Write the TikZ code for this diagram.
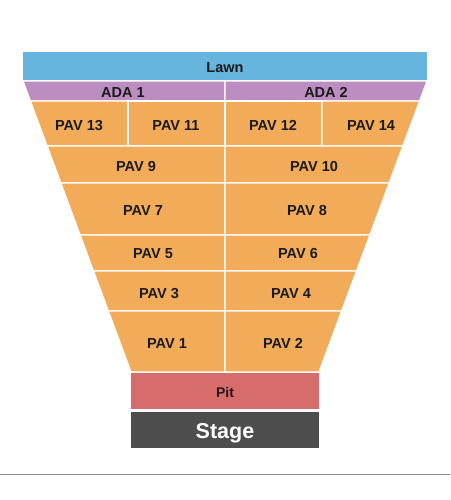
\documentclass[tikz,border=0pt]{standalone}
\usepackage{fontspec}
\setmainfont{Liberation Sans}
\definecolor{lawnc}{HTML}{67B5DE}
\definecolor{adac}{HTML}{BC8DC1}
\definecolor{pavc}{HTML}{F2AC59}
\definecolor{pitc}{HTML}{D76C6C}
\definecolor{stagec}{HTML}{4D4D4D}
\definecolor{txtc}{HTML}{1A1A1A}
\begin{document}
\begin{tikzpicture}[x=1pt,y=-1pt,
  cell/.style={draw=white,line width=1.2pt},
  lbl/.style={font=\bfseries\fontsize{14.5}{16}\selectfont,text=txtc,inner sep=0pt,text height=10.4pt,text depth=0pt},
  pitlbl/.style={font=\bfseries\fontsize{14}{16}\selectfont,text=black!80!pitc,inner sep=0pt,text height=10pt,text depth=0pt},
  stagelbl/.style={font=\bfseries\fontsize{21.5}{23}\selectfont,text=white,inner sep=0pt,text height=15.4pt,text depth=0pt}]
\useasboundingbox (0,0) rectangle (450,500);
% Lawn
\fill[lawnc] (23,52) rectangle (427,80);
% ADA
\filldraw[cell,fill=adac] (23,81)--(225,81)--(225,101)--(30.42,101)--cycle;
\filldraw[cell,fill=adac] (427,81)--(225,81)--(225,101)--(419.58,101)--cycle;
% PAV 13/11/12/14
\filldraw[cell,fill=pavc] (30.42,101)--(128,101)--(128,146)--(47.12,146)--cycle;
\filldraw[cell,fill=pavc] (128,101)--(225,101)--(225,146)--(128,146)--cycle;
\filldraw[cell,fill=pavc] (225,101)--(322,101)--(322,146)--(225,146)--cycle;
\filldraw[cell,fill=pavc] (322,101)--(419.58,101)--(402.88,146)--(322,146)--cycle;
% PAV 9/10
\filldraw[cell,fill=pavc] (47.12,146)--(225,146)--(225,183)--(60.86,183)--cycle;
\filldraw[cell,fill=pavc] (402.88,146)--(225,146)--(225,183)--(389.14,183)--cycle;
% PAV 7/8
\filldraw[cell,fill=pavc] (60.86,183)--(225,183)--(225,235)--(80.15,235)--cycle;
\filldraw[cell,fill=pavc] (389.14,183)--(225,183)--(225,235)--(369.85,235)--cycle;
% PAV 5/6
\filldraw[cell,fill=pavc] (80.15,235)--(225,235)--(225,271)--(93.51,271)--cycle;
\filldraw[cell,fill=pavc] (369.85,235)--(225,235)--(225,271)--(356.49,271)--cycle;
% PAV 3/4
\filldraw[cell,fill=pavc] (93.51,271)--(225,271)--(225,311)--(108.36,311)--cycle;
\filldraw[cell,fill=pavc] (356.49,271)--(225,271)--(225,311)--(341.64,311)--cycle;
% PAV 1/2
\filldraw[cell,fill=pavc] (108.36,311)--(225,311)--(225,372)--(131,372)--cycle;
\filldraw[cell,fill=pavc] (341.64,311)--(225,311)--(225,372)--(319,372)--cycle;
% Pit and Stage
\fill[pitc] (131,373) rectangle (319,409);
\fill[stagec] (131,412) rectangle (319,448);
% base line
\draw[black!45,line width=0.8pt] (0,474.5)--(450,474.5);
% labels
\node[lbl] (lawn) at (225,67) {Lawn};
\node[lbl] (ada1) at (123,92.5) {ADA 1};
\node[lbl] (ada2) at (326,92.5) {ADA 2};
\node[lbl] (pav13) at (79,125) {PAV 13};
\node[lbl] (pav11) at (176,125) {PAV 11};
\node[lbl] (pav12) at (273,125) {PAV 12};
\node[lbl] (pav14) at (371,125) {PAV 14};
\node[lbl] (pav9) at (136,166) {PAV 9};
\node[lbl] (pav10) at (314,166) {PAV 10};
\node[lbl] (pav7) at (143,210) {PAV 7};
\node[lbl] (pav8) at (307,210) {PAV 8};
\node[lbl] (pav5) at (153,253) {PAV 5};
\node[lbl] (pav6) at (298,253) {PAV 6};
\node[lbl] (pav3) at (159,293) {PAV 3};
\node[lbl] (pav4) at (291,293) {PAV 4};
\node[lbl] (pav1) at (167,343) {PAV 1};
\node[lbl] (pav2) at (283,343) {PAV 2};
\node[pitlbl] (pit) at (225,392) {Pit};
\node[stagelbl] (stage) at (225,431) {Stage};
\end{tikzpicture}
\end{document}
